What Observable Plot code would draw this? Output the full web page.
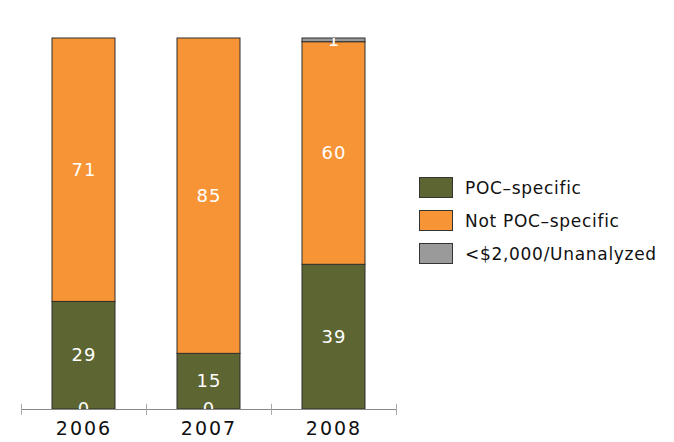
<!DOCTYPE html>
<html>
<head>
<meta charset="utf-8">
<script src="https://cdn.jsdelivr.net/npm/d3@7"></script>
<script src="https://cdn.jsdelivr.net/npm/@observablehq/plot@0.6"></script>
<style>
  body { margin: 0; background: #fff; }
  #wrap { position: relative; width: 674px; height: 442px; font-family: "DejaVu Sans", Verdana, sans-serif; }
  #legend { position: absolute; left: 419px; top: 177px; }
  .row { display: flex; align-items: center; height: 21px; margin-bottom: 12px; }
  .sw { width: 32px; height: 19px; border: 1px solid #333; }
  .lab { margin-left: 12px; font-size: 17px; color: #111; letter-spacing: 0.7px; }
</style>
</head>
<body>
<div id="wrap"></div>
<script>
const years = ["2006", "2007", "2008"];
const categories = ["POC–specific", "Not POC–specific", "<$2,000/Unanalyzed"];
const colors = ["#5d6532", "#f79435", "#9a9a9a"];
const pocSpecific = [29, 15, 39];
const notPocSpecific = [71, 85, 60];
const unanalyzed = [0, 0, 1];

const series = [pocSpecific, notPocSpecific, unanalyzed];
const data = [];
years.forEach((yr, i) => {
  categories.forEach((c, j) => data.push({year: yr, category: c, value: series[j][i]}));
});
const nonZero = data.filter(d => d.value > 0);
const zeros = data.filter(d => d.value === 0);

const W = 674, H = 442, mL = 21, mR = 278, mT = 38, mB = 33;
const step = (W - mL - mR) / years.length;
const inset = 31;

const chart = Plot.plot({
  width: W, height: H,
  marginLeft: mL, marginRight: mR, marginTop: mT, marginBottom: mB,
  style: {fontFamily: "DejaVu Sans, Verdana, sans-serif", background: "#fff"},
  x: {domain: years, padding: 0, label: null},
  y: {domain: [0, 100], axis: null},
  color: {domain: categories, range: colors},
  marks: [
    Plot.barY(data, Plot.stackY({x: "year", y: "value", z: "category", fill: "category", stroke: "#2e2e2e", strokeWidth: 1, insetLeft: inset, insetRight: inset})),
    Plot.text(nonZero, Plot.stackY({x: "year", y: "value", z: "category", text: d => String(d.value), fill: "white", fontSize: 18, clip: true})),
    Plot.text(zeros, {x: "year", y: 0, text: d => String(d.value), fill: "white", fontSize: 18, clip: true}),
    Plot.ruleY([0], {stroke: "#888", strokeWidth: 1.2}),
    Plot.ruleX(years, {x: d => d, dx: -step / 2, y1: -1.6, y2: 1.4, stroke: "#aaa"}),
    Plot.ruleX(years.slice(-1), {x: d => d, dx: step / 2, y1: -1.6, y2: 1.4, stroke: "#aaa"}),
    Plot.axisX({tickSize: 0, tickPadding: 12, fontSize: 19, fill: "#111", label: null})
  ]
});
chart.querySelectorAll("g[aria-label='x-axis tick label'] text").forEach(t => t.setAttribute("letter-spacing", "2"));
chart.querySelectorAll("g[aria-label='text'] text").forEach(t => t.setAttribute("letter-spacing", "1"));
const wrap = document.getElementById("wrap");
wrap.appendChild(chart);

const legend = document.createElement("div");
legend.id = "legend";
categories.forEach((c, i) => {
  const row = document.createElement("div");
  row.className = "row";
  const sw = document.createElement("div");
  sw.className = "sw";
  sw.style.background = colors[i];
  const lab = document.createElement("div");
  lab.className = "lab";
  lab.textContent = c;
  row.appendChild(sw); row.appendChild(lab);
  legend.appendChild(row);
});
wrap.appendChild(legend);
</script>
</body>
</html>
